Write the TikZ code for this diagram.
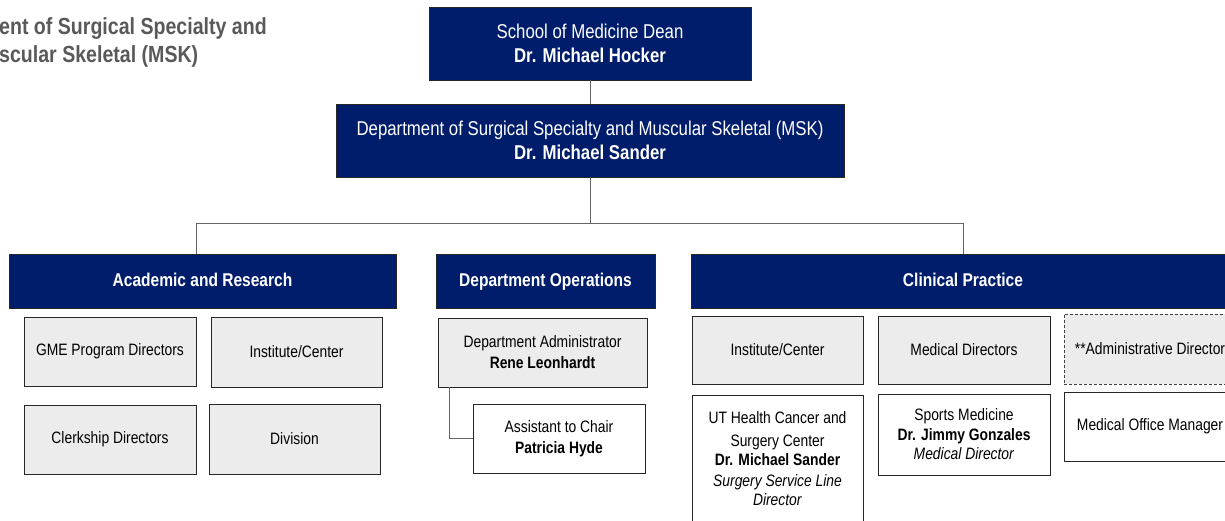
\documentclass[tikz,border=0pt]{standalone}
\usepackage{fontspec}
\setmainfont{Liberation Sans}[FakeStretch=0.84]
\definecolor{navy}{RGB}{0,29,108}
\definecolor{boxgray}{RGB}{236,236,236}
\definecolor{linegray}{RGB}{100,100,100}
\definecolor{titlegray}{RGB}{89,89,89}
\begin{document}
\begin{tikzpicture}[x=1pt,y=-1pt,
  basebox/.style={draw=black!85, line width=0.8pt, align=center, inner sep=2pt,
    font=\fontsize{16.5pt}{20pt}\selectfont},
  gbox/.style={basebox, fill=boxgray},
  wbox/.style={basebox, fill=white},
  dbox/.style={basebox, fill=boxgray, draw=black!75, dash pattern=on 3pt off 2pt},
  nbox/.style={draw=black!85, line width=0.8pt, fill=navy, text=white, align=center, inner sep=2pt},
  topfont/.style={font=\fontsize{20pt}{24pt}\selectfont},
  headfont/.style={font=\bfseries\fontsize{18.5pt}{22pt}\selectfont, text height=13pt, text depth=3pt},
  conn/.style={draw=linegray, line width=1pt},
  ttl/.style={anchor=base west, inner sep=0pt, text=titlegray, font=\bfseries\fontsize{23.3pt}{28pt}\selectfont}
]
\useasboundingbox (0,0) rectangle (1225,520);
\fill[white] (0,0) rectangle (1225,520);

% title (cut by the page edge)
\node[ttl] (t1) at (-1,34) {ent of Surgical Specialty and};
\node[ttl] (t2) at (-1,62) {scular Skeletal (MSK)};

% top level
\node[nbox, topfont, minimum width=322pt, minimum height=73pt] (dean) at (590,43.5)
  {School of Medicine Dean\\\textbf{Dr. Michael Hocker}};
\node[nbox, topfont, minimum width=508pt, minimum height=73pt] (msk) at (590,140.5)
  {Department of Surgical Specialty and Muscular Skeletal (MSK)\\\textbf{Dr. Michael Sander}};

% headers
\node[nbox, headfont, minimum width=387pt, minimum height=54pt] (acad) at (202.5,281) {Academic and Research};
\node[nbox, headfont, minimum width=219pt, minimum height=54pt] (ops) at (545.5,281) {Department Operations};
\node[nbox, headfont, minimum width=544pt, minimum height=54pt] (clin) at (963,281) {Clinical Practice};

% academic and research
\node[gbox, minimum width=172pt, minimum height=69pt] (gme) at (110,351.5) {GME Program Directors};
\node[gbox, minimum width=171pt, minimum height=70pt] (inst) at (296.5,352) {Institute/Center};
\node[gbox, minimum width=172pt, minimum height=69pt] (clerk) at (110,439.5) {Clerkship Directors};
\node[gbox, minimum width=171pt, minimum height=70pt] (div) at (294.5,439) {Division};

% department operations
\node[gbox, minimum width=209pt, minimum height=69pt] (dadm) at (542.5,352.5)
  {Department Administrator\\[1pt]\textbf{Rene Leonhardt}};
\node[wbox, minimum width=172pt, minimum height=69pt] (asst) at (559,438.5)
  {Assistant to Chair\\[1pt]\textbf{Patricia Hyde}};

% clinical practice
\node[gbox, minimum width=171pt, minimum height=68pt] (inst2) at (777.5,350) {Institute/Center};
\node[gbox, minimum width=172pt, minimum height=68pt] (med) at (964,350) {Medical Directors};
\node[dbox, minimum width=172pt, minimum height=70pt] (adm2) at (1150,349) {**Administrative Director};
\node[wbox, minimum width=171pt, minimum height=128pt,
  font=\fontsize{16.5pt}{19pt}\selectfont] (ut) at (777.5,459)
  {UT Health Cancer and\\[4pt]Surgery Center\\\textbf{Dr. Michael Sander}\\[2pt]\textit{Surgery Service Line}\\\textit{Director}};
\node[wbox, minimum width=172pt, minimum height=81pt,
  font=\fontsize{16.5pt}{19.5pt}\selectfont] (sports) at (964,434.5)
  {Sports Medicine\\\textbf{Dr. Jimmy Gonzales}\\\textit{Medical Director}};
\node[wbox, minimum width=172pt, minimum height=69pt] (mom) at (1150,426.5) {Medical Office Manager};

% connectors
\coordinate (hub) at (590,223);
\coordinate (hl) at (196,223);
\coordinate (hr) at (963,223);
\draw[conn] (dean.south) -- (msk.north);
\draw[conn] (msk.south) -- (hub);
\draw[conn] (hl |- acad.north) -- (hl) -- (hr) -- (clin.north);
\coordinate (elb) at (449,438);
\draw[conn] (elb |- dadm.south) -- (elb) -- (asst.west |- elb);
\end{tikzpicture}
\end{document}
